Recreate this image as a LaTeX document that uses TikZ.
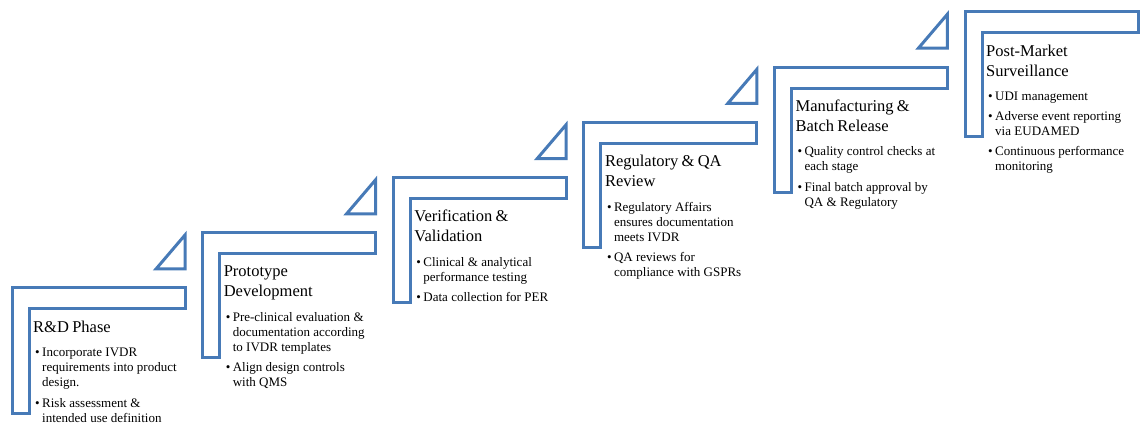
\documentclass[tikz,border=0pt]{standalone}
\usepackage{fontspec}
\setmainfont{Liberation Serif}
\definecolor{stepblue}{RGB}{71,122,183}
\newcommand{\bitem}[1]{\par\vspace{4.5pt}\noindent\hspace*{2pt}\makebox[7pt][l]{\textbullet}\begin{tabular}[t]{@{}l@{}}#1\end{tabular}\par}
\newcommand{\steptitle}[1]{\noindent{\fontsize{16.5}{20}\selectfont\rule{0pt}{14pt}#1\par}\vspace{5pt}\fontsize{13}{15}\selectfont}
\tikzset{
  stepshape/.style={draw=stepblue, line width=3pt, line join=miter},
  steptext/.style={anchor=north west, inner sep=0pt, text width=190pt, align=left},
}
\begin{document}
\begin{tikzpicture}[x=1pt,y=-1pt]
\useasboundingbox (0,0) rectangle (1140,427);
\fill[white] (0,0) rectangle (1140,427);
% step shapes
\foreach \i in {0,...,5}{
  \pgfmathsetmacro{\L}{12+190.6*\i}
  \pgfmathsetmacro{\T}{288-55.2*\i}
  \draw[stepshape] (\L,\T) -- ({\L+173},\T) -- ({\L+173},{\T+21}) -- ({\L+17},{\T+21}) -- ({\L+17},{\T+125}) -- (\L,{\T+125}) -- cycle;
}
\foreach \i in {0,...,4}{
  \pgfmathsetmacro{\L}{12+190.6*\i}
  \pgfmathsetmacro{\T}{288-55.2*\i}
  \draw[stepshape] ({\L+173},{\T-53}) -- ({\L+173},{\T-19}) -- ({\L+144},{\T-19}) -- cycle;
}
% texts
\node[steptext] (t1) at (33,318) {\steptitle{R\&D Phase}%
\bitem{Incorporate IVDR\\requirements into product\\design.}%
\bitem{Risk assessment \&\\intended use definition}};
\node[steptext] (t2) at (223.6,262.8) {\steptitle{Prototype\\Development}%
\bitem{Pre-clinical evaluation \&\\documentation according\\to IVDR  templates}%
\bitem{Align design controls\\with QMS}};
\node[steptext] (t3) at (414.2,207.6) {\steptitle{Verification \&\\Validation}%
\bitem{Clinical \& analytical\\performance testing}%
\bitem{Data collection for PER}};
\node[steptext] (t4) at (604.8,152.4) {\steptitle{Regulatory \& QA\\Review}%
\bitem{Regulatory Affairs\\ensures documentation\\meets IVDR}%
\bitem{QA reviews for\\compliance with GSPRs}};
\node[steptext] (t5) at (795.4,97.2) {\steptitle{Manufacturing \&\\Batch Release}%
\bitem{Quality control checks at\\each stage}%
\bitem{Final batch approval by\\QA \& Regulatory}};
\node[steptext] (t6) at (986,42) {\steptitle{Post-Market\\Surveillance}%
\bitem{UDI management}%
\bitem{Adverse event reporting\\via EUDAMED}%
\bitem{Continuous performance\\monitoring}};
\end{tikzpicture}
\end{document}
